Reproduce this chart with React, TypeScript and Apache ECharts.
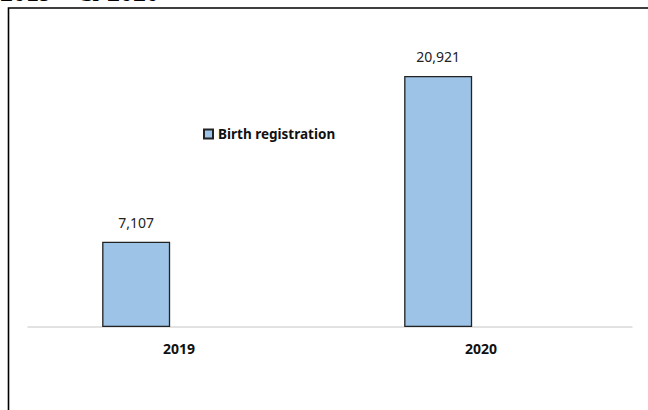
import React, { useEffect, useRef } from "react";
import * as echarts from "echarts";

const categories = ["2019", "2020"];
const birthRegistration = [7107, 20921];
const seriesName = "Birth registration";
const titleParts = ["2019", "&", "2020"];

export default function App() {
  const ref = useRef<HTMLDivElement>(null);
  useEffect(() => {
    if (!ref.current) return;
    const chart = echarts.init(ref.current, null, { renderer: "svg" });
    const font = "'Noto Sans', sans-serif";
    const titleFont = "bold 26px 'Liberation Serif', serif";
    chart.setOption({
      animation: false,
      backgroundColor: "#ffffff",
      grid: { left: 28, right: 16, top: 27, bottom: 83, containLabel: false },
      legend: {
        left: 198,
        top: 122,
        icon: "rect",
        itemWidth: 9,
        itemHeight: 9,
        itemGap: 5,
        data: [seriesName],
        textStyle: { fontFamily: font, fontSize: 13.5, fontWeight: "bold", color: "#111" },
      },
      xAxis: {
        type: "category",
        data: categories,
        axisLine: { show: true, lineStyle: { color: "#d9d9d9", width: 1.5 } },
        axisTick: { show: false },
        axisLabel: { fontFamily: font, fontSize: 14, fontWeight: "bold", color: "#111", margin: 14 },
      },
      yAxis: {
        type: "value",
        min: 0,
        max: 25000,
        show: false,
        splitLine: { show: false },
      },
      series: [
        {
          name: seriesName,
          type: "bar",
          data: birthRegistration,
          barWidth: 68,
          barGap: "26%",
          itemStyle: { color: "#9dc3e6", borderColor: "#222", borderWidth: 1.3 },
          label: {
            show: true,
            position: "top",
            distance: 12,
            fontFamily: font,
            fontSize: 14,
            color: "#222",
            formatter: (p: any) => Number(p.value).toLocaleString("en-US"),
          },
        },
        {
          name: "_spacer",
          type: "bar",
          data: categories.map(() => null),
          barWidth: 68,
          barGap: "26%",
        },
      ],
      graphic: [
        {
          type: "polyline",
          shape: { points: [[8.5, 412], [8.5, 8], [650, 8]] },
          style: { stroke: "#000", lineWidth: 1.6, fill: "none" },
          silent: true,
        },
        {
          type: "text",
          x: 0,
          y: -8,
          style: { text: titleParts[0], font: titleFont, fill: "#000", textVerticalAlign: "middle" },
        },
        {
          type: "text",
          x: 78,
          y: -8,
          style: { text: titleParts[1], font: titleFont, fill: "#000", textVerticalAlign: "middle" },
        },
        {
          type: "text",
          x: 107,
          y: -8,
          style: { text: titleParts[2], font: titleFont, fill: "#000", textVerticalAlign: "middle" },
        },
      ],
    });
    return () => chart.dispose();
  }, []);
  return (
    <div
      ref={ref}
      style={{ position: "absolute", left: 0, top: 0, width: 648, height: 410 }}
    />
  );
}
